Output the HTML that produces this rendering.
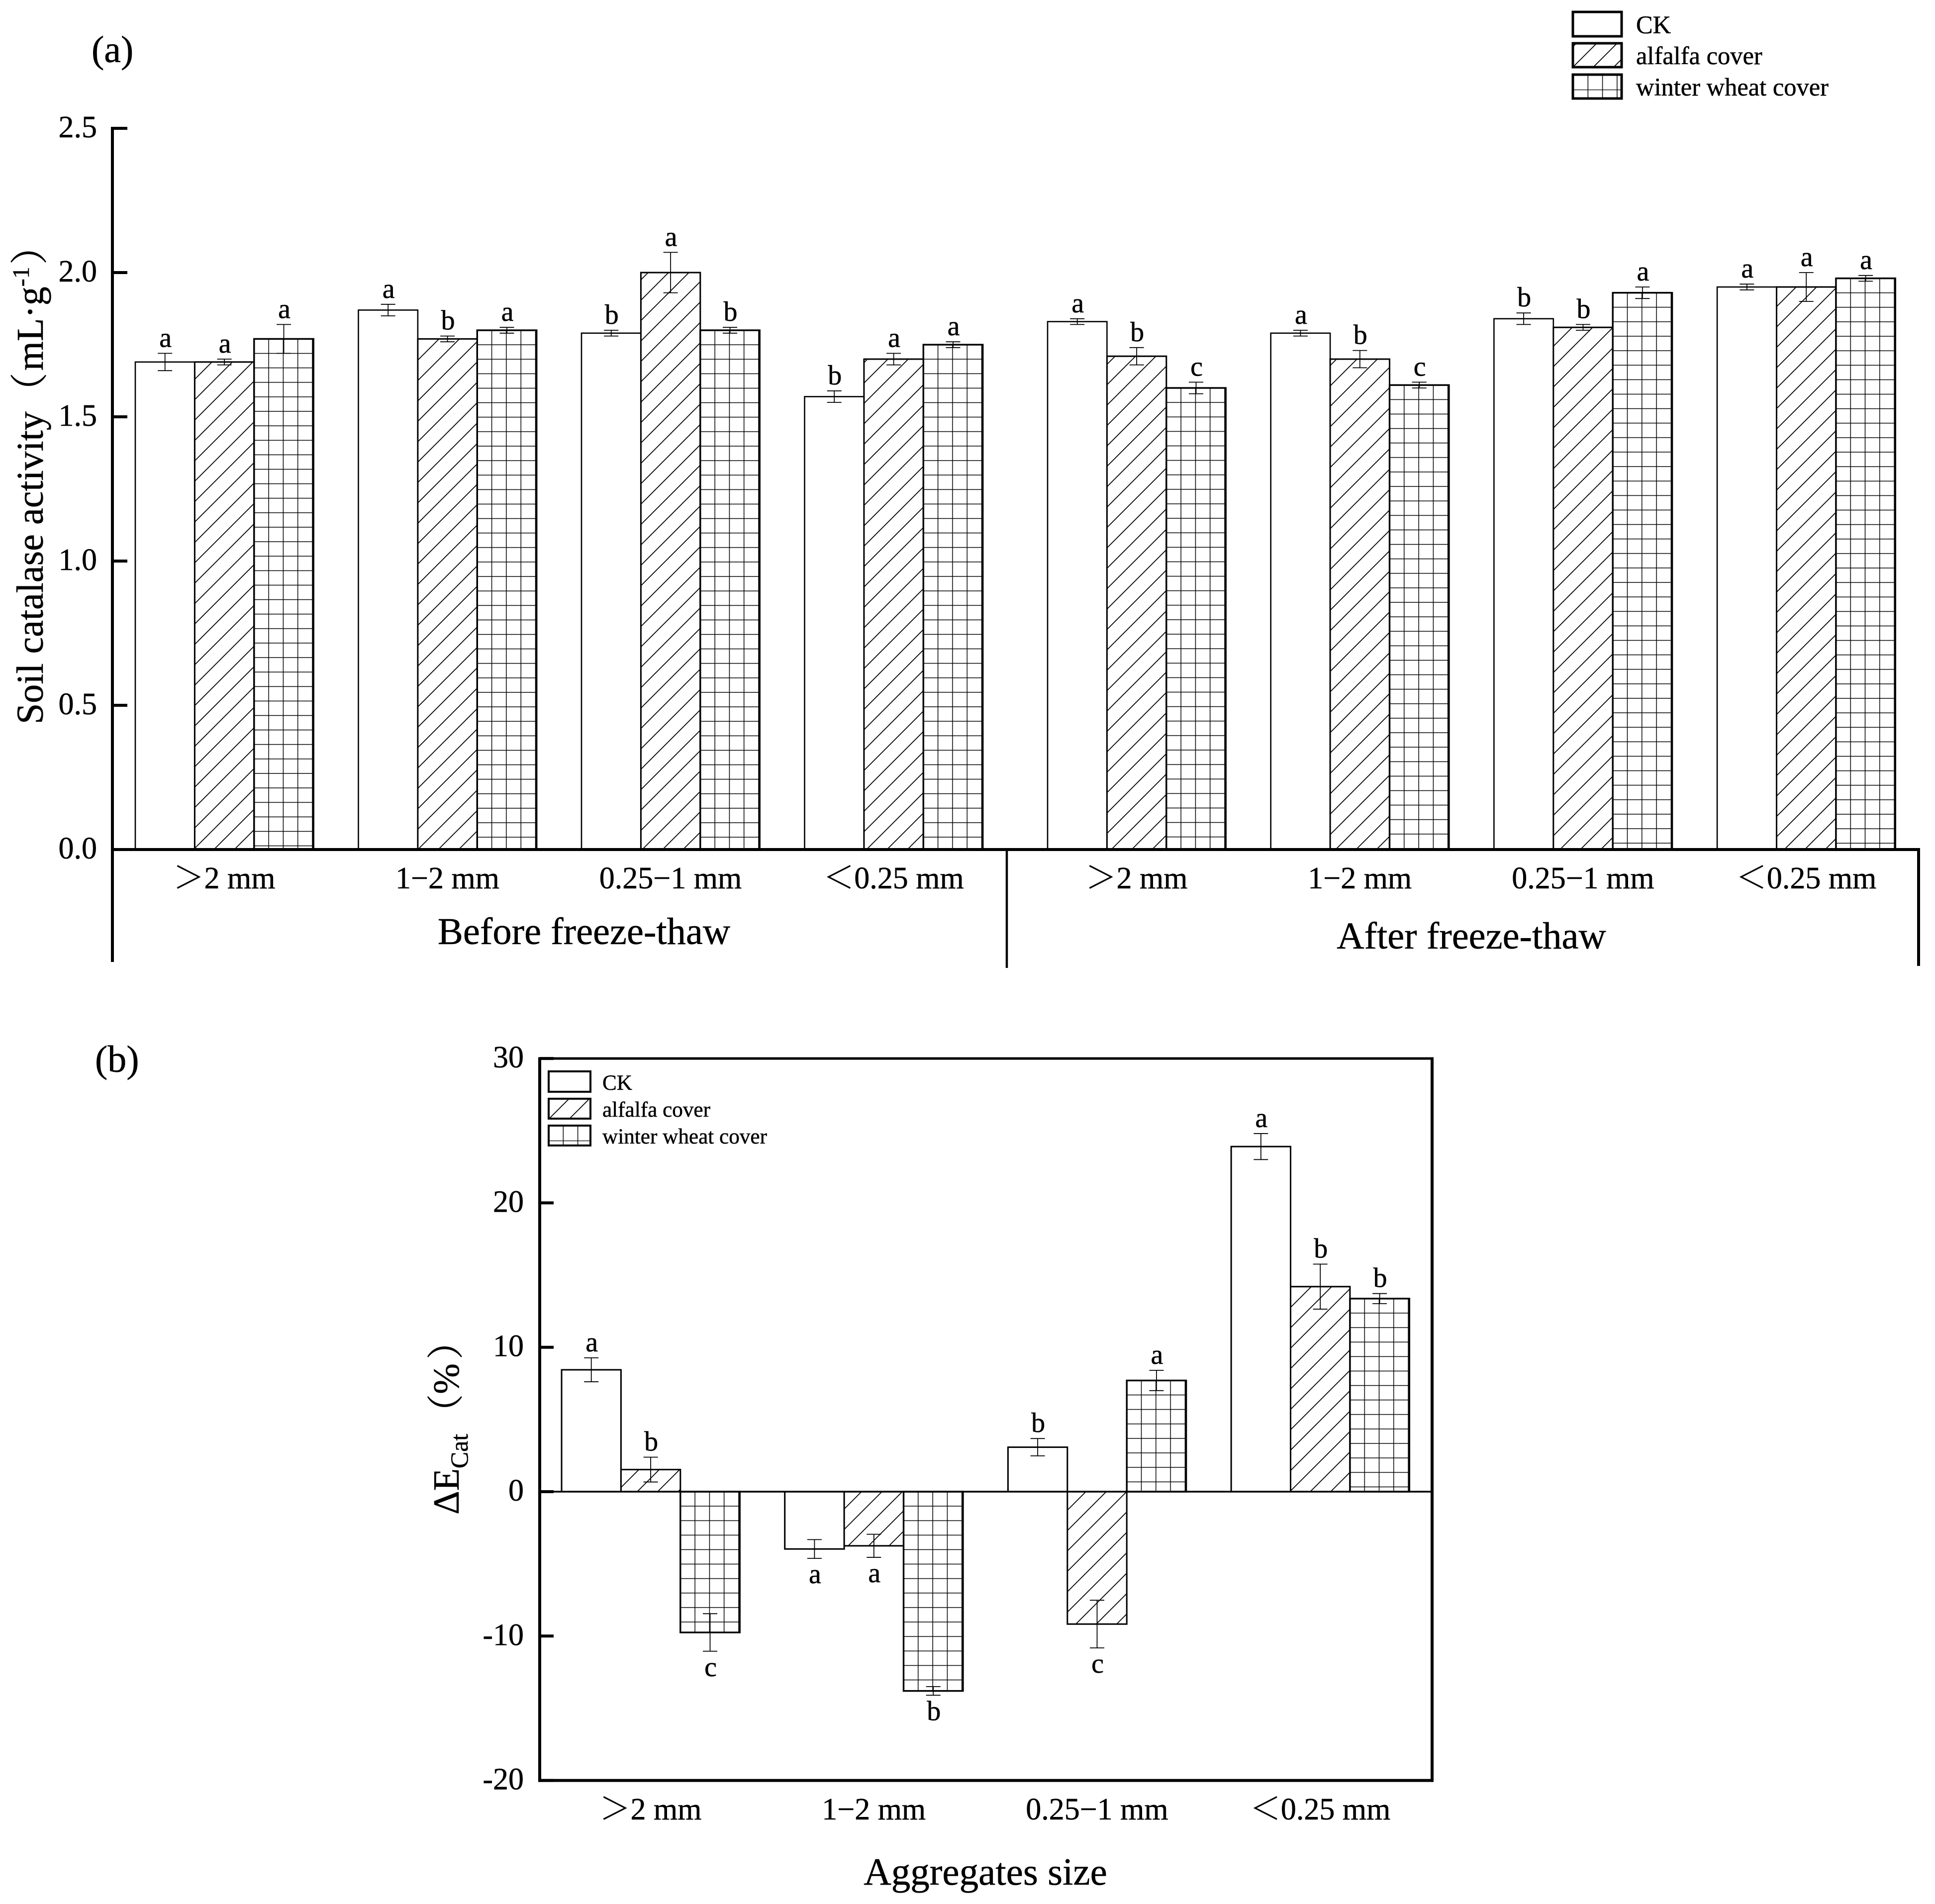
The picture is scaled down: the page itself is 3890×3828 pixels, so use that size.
<!DOCTYPE html>
<html lang="en">
<head>
<meta charset="utf-8">
<title>Soil catalase activity and change by aggregate size</title>
<style>
html,body{margin:0;padding:0;background:#fff;}
svg{display:block;}
text{font-family:"Liberation Serif","Noto Serif CJK SC",serif;fill:#000;stroke:#000;stroke-width:0.5px;}
</style>
</head>
<body>
<svg id="figure" xmlns="http://www.w3.org/2000/svg" width="3890" height="3828" viewBox="0 0 3890 3828">
  <rect x="0" y="0" width="3890" height="3828" fill="#fff"/>
  <defs id="defs">
    <pattern id="hatch-a" patternUnits="userSpaceOnUse" x="6" y="0" width="41" height="41"><rect width="41" height="41" fill="#fff"/><path d="M-2 43L43 -2" stroke="#000" stroke-width="1.8"/><path d="M-2 2L2 -2M39 43L43 39" stroke="#000" stroke-width="1.8"/></pattern>
    <pattern id="hatch-b" patternUnits="userSpaceOnUse" x="16" y="0" width="41" height="41"><rect width="41" height="41" fill="#fff"/><path d="M-2 43L43 -2" stroke="#000" stroke-width="1.8"/><path d="M-2 2L2 -2M39 43L43 39" stroke="#000" stroke-width="1.8"/></pattern>
    <pattern id="hatch-legend-a" patternUnits="userSpaceOnUse" x="17" y="0" width="41" height="41"><rect width="41" height="41" fill="#fff"/><path d="M-2 43L43 -2" stroke="#000" stroke-width="1.8"/><path d="M-2 2L2 -2M39 43L43 39" stroke="#000" stroke-width="1.8"/></pattern>
    <pattern id="hatch-legend-b" patternUnits="userSpaceOnUse" x="32" y="0" width="41" height="41"><rect width="41" height="41" fill="#fff"/><path d="M-2 43L43 -2" stroke="#000" stroke-width="1.8"/><path d="M-2 2L2 -2M39 43L43 39" stroke="#000" stroke-width="1.8"/></pattern>
    <pattern id="grid-legend-a" patternUnits="userSpaceOnUse" x="3162" y="149" width="29.3" height="30.5"><rect width="29.3" height="30.5" fill="#fff"/><path d="M1 0V30.5M0 1H29.3" stroke="#000" stroke-width="1.5"/></pattern>
    <pattern id="grid-legend-b" patternUnits="userSpaceOnUse" x="1102" y="2262" width="29.3" height="30.5"><rect width="29.3" height="30.5" fill="#fff"/><path d="M1 0V30.5M0 1H29.3" stroke="#000" stroke-width="1.5"/></pattern>
  </defs>

  <text x="184" y="125" font-size="76">(a)</text>
  <text x="191" y="2155" font-size="76">(b)</text>

  <g id="panel-a"></g>
  <g id="panel-b"></g>

  <text transform="translate(86 1456) rotate(-90)" font-size="76">Soil catalase activity<tspan dx="2">（</tspan><tspan dx="4">mL·g</tspan><tspan font-size="48" dy="-28">-1</tspan><tspan dy="28" dx="4">）</tspan></text>
  <text transform="translate(922 3045) rotate(-90)" font-size="74">ΔE<tspan font-size="50" dy="18">Cat</tspan><tspan dy="-18" dx="6">（%</tspan><tspan dx="8">）</tspan></text>
  <text x="1174" y="1898" font-size="76.5" text-anchor="middle">Before freeze-thaw</text>
  <text x="2958" y="1907" font-size="76.5" text-anchor="middle">After freeze-thaw</text>
  <text x="1981" y="3789" font-size="77" text-anchor="middle">Aggregates size</text>

  <g>
    <rect x="3162" y="24" width="98" height="49" fill="#fff" stroke="#000" stroke-width="5"/>
    <text x="3289" y="67" font-size="50.5">CK</text>
    <rect x="3162" y="87" width="98" height="48" fill="url(#hatch-legend-a)" stroke="#000" stroke-width="5"/>
    <text x="3289" y="129" font-size="50.5">alfalfa cover</text>
    <rect x="3162" y="150" width="98" height="48" fill="url(#grid-legend-a)" stroke="#000" stroke-width="5"/>
    <text x="3289" y="192" font-size="50.5">winter wheat cover</text>
  </g>
  <g>
    <rect x="1103" y="2154" width="84" height="41" fill="#fff" stroke="#000" stroke-width="4"/>
    <text x="1211" y="2191" font-size="43.2">CK</text>
    <rect x="1103" y="2209" width="84" height="40" fill="url(#hatch-legend-b)" stroke="#000" stroke-width="4"/>
    <text x="1211" y="2245" font-size="43.2">alfalfa cover</text>
    <rect x="1103" y="2263" width="84" height="40" fill="url(#grid-legend-b)" stroke="#000" stroke-width="4"/>
    <text x="1211" y="2299" font-size="43.2">winter wheat cover</text>
  </g>
</svg>
<script>
const aCategories = ['＞2 mm', '1−2 mm', '0.25−1 mm', '＜0.25 mm', '＞2 mm', '1−2 mm', '0.25−1 mm', '＜0.25 mm'];
const aTicks = [0, 0.5, 1.0, 1.5, 2.0, 2.5];
const aCk = [1.69, 1.87, 1.79, 1.57, 1.83, 1.79, 1.84, 1.95];
const aCkErr = [0.03, 0.02, 0.01, 0.02, 0.01, 0.01, 0.02, 0.01];
const aCkSig = ['a', 'a', 'b', 'b', 'a', 'a', 'b', 'a'];
const aAlfalfa = [1.69, 1.77, 2.00, 1.70, 1.71, 1.70, 1.81, 1.95];
const aAlfalfaErr = [0.01, 0.01, 0.07, 0.02, 0.03, 0.03, 0.01, 0.05];
const aAlfalfaSig = ['a', 'b', 'a', 'a', 'b', 'b', 'b', 'a'];
const aWheat = [1.77, 1.80, 1.80, 1.75, 1.60, 1.61, 1.93, 1.98];
const aWheatErr = [0.05, 0.01, 0.01, 0.01, 0.02, 0.01, 0.02, 0.01];
const aWheatSig = ['a', 'a', 'b', 'a', 'c', 'c', 'a', 'a'];

const bCategories = ['＞2 mm', '1−2 mm', '0.25−1 mm', '＜0.25 mm'];
const bTicks = [-20, -10, 0, 10, 20, 30];
const bCk = [8.44, -3.97, 3.08, 23.9];
const bCkErr = [0.83, 0.65, 0.6, 0.9];
const bCkSig = ['a', 'a', 'b', 'a'];
const bAlfalfa = [1.53, -3.75, -9.17, 14.2];
const bAlfalfaErr = [0.86, 0.8, 1.65, 1.56];
const bAlfalfaSig = ['b', 'a', 'c', 'b'];
const bWheat = [-9.75, -13.8, 7.7, 13.37];
const bWheatErr = [1.3, 0.3, 0.7, 0.35];
const bWheatSig = ['c', 'b', 'a', 'b'];

const SVGNS = 'http://www.w3.org/2000/svg';
const BAR_W = 119.4;
function yA(v) { return 1708 - v * 580; }
function yB(v) { return 2999 - v * 29.03; }
function xA(g) { return g < 4 ? 272 + g * 448.5 : 2106 + (g - 4) * 448.7; }
function xB(g) { return 1129 + g * 448.7; }

function mk(parent, tag, attrs) {
  const el = document.createElementNS(SVGNS, tag);
  for (const k in attrs) { el.setAttribute(k, attrs[k]); }
  parent.appendChild(el);
  return el;
}
function seg(parent, x1, y1, x2, y2, w) {
  return mk(parent, 'line', { x1: x1, y1: y1, x2: x2, y2: y2, stroke: '#000', 'stroke-width': w });
}

let gridId = 0;
function gridPattern(left, top) {
  gridId += 1;
  const id = 'grid-bar-' + gridId;
  const p = mk(document.getElementById('defs'), 'pattern', { id: id, patternUnits: 'userSpaceOnUse', x: left - 1, y: top - 1, width: 29.3, height: 29.12 });
  mk(p, 'rect', { width: 29.3, height: 29.12, fill: '#fff' });
  mk(p, 'path', { d: 'M1 0V29.12M0 1H29.3', stroke: '#000', 'stroke-width': 1.5 });
  return 'url(#' + id + ')';
}

function drawBars(root, x, y, values, errs, sigs, idx, fillFor, strokeW) {
  values.forEach(function (v, g) {
    const left = x(g) + idx * BAR_W;
    const top = Math.min(y(v), y(0));
    const h = Math.abs(y(v) - y(0));
    const fill = fillFor === 'grid' ? gridPattern(left, top) : fillFor;
    const bar = mk(root, 'rect', { x: left, y: top, width: BAR_W, height: h, fill: fill, stroke: '#000', 'stroke-width': strokeW });
    
    
  });
}

function drawErrors(root, x, y, values, errs, sigs, idx) {
  values.forEach(function (v, g) {
    const cx = x(g) + idx * BAR_W + BAR_W / 2;
    const hi = y(v + errs[g]);
    const lo = y(v - errs[g]);
    const stem = seg(root, cx, hi, cx, lo, 1.8);
    
    
    const capTop = seg(root, cx - 14.5, hi, cx + 14.5, hi, 1.8);
    
    
    const capBottom = seg(root, cx - 14.5, lo, cx + 14.5, lo, 1.8);
    
    
    const ty = v >= 0 ? hi - 13 : lo + 50;
    const label = mk(root, 'text', { x: cx + 1, y: ty, 'font-size': 56, 'text-anchor': 'middle' });
    label.textContent = sigs[g];
    
    
  });
}

function drawCategoryLabels(root, x, cats, baseline) {
  cats.forEach(function (c, g) {
    const t = mk(root, 'text', { x: x(g) + 179, y: baseline, 'font-size': 62, 'text-anchor': 'middle' });
    t.textContent = c;
    
    
  });
}

/* Panel A */
(function () {
  const root = document.getElementById('panel-a');
  drawBars(root, xA, yA, aCk, aCkErr, aCkSig, 0, '#fff', 2.6);
  drawBars(root, xA, yA, aAlfalfa, aAlfalfaErr, aAlfalfaSig, 1, 'url(#hatch-a)', 3);
  drawBars(root, xA, yA, aWheat, aWheatErr, aWheatSig, 2, 'grid', 3.4);
  drawErrors(root, xA, yA, aCk, aCkErr, aCkSig, 0);
  drawErrors(root, xA, yA, aAlfalfa, aAlfalfaErr, aAlfalfaSig, 1);
  drawErrors(root, xA, yA, aWheat, aWheatErr, aWheatSig, 2);

  const yAxis = seg(root, 226, yA(aTicks[aTicks.length - 1]) - 3, 226, 1934, 6);
  
  
  const xAxis = seg(root, 223, yA(0), 3860, yA(0), 6);
  
  
  const divider = seg(root, 2024, yA(0), 2024, 1946, 4.5);
  
  
  const rightEdge = seg(root, 3857, yA(0), 3857, 1942, 6);
  
  

  aTicks.forEach(function (t) {
    if (t !== 0) {
      const tick = seg(root, 223, yA(t), 256, yA(t), 6);
      
      
    }
    const lab = mk(root, 'text', { x: 195, y: yA(t) + 18, 'font-size': 62, 'text-anchor': 'end' });
    lab.textContent = t.toFixed(1);
    
    
  });
  drawCategoryLabels(root, xA, aCategories, 1786);
})();

/* Panel B */
(function () {
  const root = document.getElementById('panel-b');
  drawBars(root, xB, yB, bCk, bCkErr, bCkSig, 0, '#fff', 3);
  drawBars(root, xB, yB, bAlfalfa, bAlfalfaErr, bAlfalfaSig, 1, 'url(#hatch-b)', 3);
  drawBars(root, xB, yB, bWheat, bWheatErr, bWheatSig, 2, 'grid', 3.4);
  drawErrors(root, xB, yB, bCk, bCkErr, bCkSig, 0);
  drawErrors(root, xB, yB, bAlfalfa, bAlfalfaErr, bAlfalfaSig, 1);
  drawErrors(root, xB, yB, bWheat, bWheatErr, bWheatSig, 2);

  const zero = seg(root, 1085, yB(0), 2879, yB(0), 3.4);
  
  
  const frameLeft = seg(root, 1085, yB(30) - 2.5, 1085, yB(-20) + 3, 6);
  
  
  const frameRight = seg(root, 2879, yB(30) - 2.5, 2879, yB(-20) + 3, 6);
  
  
  const frameTop = seg(root, 1082, yB(30), 2882, yB(30), 5);
  
  
  const frameBottom = seg(root, 1082, yB(-20), 2882, yB(-20), 6);
  
  

  bTicks.forEach(function (t) {
    const tick = seg(root, 1085, yB(t), 1113, yB(t), 6);
    
    
    const lab = mk(root, 'text', { x: 1053, y: yB(t) + 18, 'font-size': 62, 'text-anchor': 'end' });
    lab.textContent = String(t);
    
    
  });
  drawCategoryLabels(root, xB, bCategories, 3658);
})();
</script>
</body>
</html>
